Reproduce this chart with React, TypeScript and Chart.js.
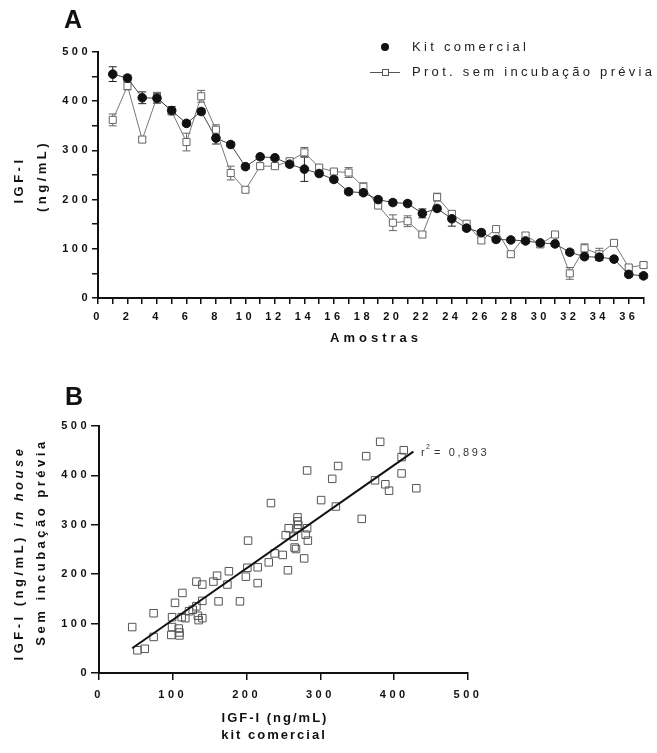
import React, { useEffect, useRef } from "react";
import { Chart, registerables } from "chart.js";

Chart.register(...registerables);

// ---------- Panel A data ----------
const amostras = [1,2,3,4,5,6,7,8,9,10,11,12,13,14,15,16,17,18,19,20,21,22,23,24,25,26,27,28,29,30,31,32,33,34,35,36,37];
const kitValues = [455,447,407,406,381,355,379,325,312,267,287,285,272,262,253,241,216,214,200,194,192,172,182,161,142,133,119,118,116,112,110,93,84,83,79,48,45];
const kitErr = [15,6,12,10,8,5,6,12,5,5,5,5,5,25,5,5,5,5,5,5,5,9,5,15,5,5,5,5,5,5,5,5,5,7,5,5,5];
const protValues = [362,431,322,408,379,317,410,342,254,220,268,268,278,296,265,257,255,226,188,153,156,129,205,171,151,117,140,89,127,109,129,50,101,89,112,62,67];
const protErr = [12,8,5,10,5,18,12,10,14,5,5,5,5,10,5,5,10,8,5,16,11,5,8,5,5,5,5,5,6,5,5,12,9,12,5,5,5];
const xTicksA = [0,2,4,6,8,10,12,14,16,18,20,22,24,26,28,30,32,34,36];

// ---------- Panel B data ----------
const kitB = [45,52,62,74,74,99,99,98,103,108,109,109,112,113,117,122,127,132,132,134,135,140,140,140,155,160,162,176,174,191,199,202,201,215,215,230,233,238,249,253,256,257,264,265,267,269,269,269,270,280,282,283,278,282,301,316,321,324,356,362,374,381,388,393,410,410,413,430];
const protB = [93,46,49,73,121,113,93,77,142,90,82,76,113,162,111,125,128,185,135,116,107,179,146,111,185,197,145,206,179,145,195,268,213,214,182,224,344,242,239,279,208,293,276,254,251,293,315,307,300,280,293,268,232,410,350,393,337,419,312,439,390,468,382,369,404,437,451,374];
const fitX = [45, 426];
const fitY = [50, 448];
const r2Label = "0,893";

const FAM = "'Liberation Sans', Arial, Helvetica, sans-serif";

function drawText(ctx: any, s: string, x: number, y: number, font: string, spacing: number, align: string, color: string) {
  ctx.save();
  ctx.font = font;
  ctx.letterSpacing = spacing + "px";
  ctx.fillStyle = color;
  ctx.textAlign = align;
  ctx.textBaseline = "middle";
  const dx = align === "center" ? spacing / 2 : 0;
  ctx.fillText(s, x + dx, y);
  ctx.restore();
}

function drawRotated(ctx: any, parts: [string, string][], cx: number, cy: number, spacing: number, color: string) {
  ctx.save();
  ctx.translate(cx, cy);
  ctx.rotate(-Math.PI / 2);
  ctx.letterSpacing = spacing + "px";
  ctx.fillStyle = color;
  ctx.textBaseline = "middle";
  ctx.textAlign = "left";
  let total = 0;
  const widths = parts.map(([s, f]) => { ctx.font = f; const w = ctx.measureText(s).width; total += w; return w; });
  let x = -total / 2;
  parts.forEach(([s, f], i) => { ctx.font = f; ctx.fillText(s, x, 0); x += widths[i]; });
  ctx.restore();
}

const errorBars = {
  id: "errorBars",
  beforeDatasetsDraw(chart: any) {
    const { ctx } = chart;
    const x = chart.scales.x, y = chart.scales.y;
    chart.data.datasets.forEach((ds: any) => {
      if (!ds.errors) return;
      ctx.save();
      ctx.strokeStyle = ds.errorColor;
      ctx.lineWidth = 1;
      ds.data.forEach((p: any, j: number) => {
        const e = ds.errors[j];
        const px = x.getPixelForValue(p.x);
        const t = y.getPixelForValue(p.y + e);
        const b = y.getPixelForValue(p.y - e);
        ctx.beginPath();
        ctx.moveTo(px, t); ctx.lineTo(px, b);
        ctx.moveTo(px - 4, t); ctx.lineTo(px + 4, t);
        ctx.moveTo(px - 4, b); ctx.lineTo(px + 4, b);
        ctx.stroke();
      });
      ctx.restore();
    });
  },
};

const spacingPlugin = {
  id: "spacing",
  beforeDraw(chart: any) { chart.ctx.letterSpacing = "3.5px"; },
};

const annotA = {
  id: "annotA",
  afterDraw(chart: any) {
    const ctx = chart.ctx;
    drawText(ctx, "A", 64, 21, `bold 25px ${FAM}`, 0, "left", "#111");
    drawRotated(ctx, [["IGF-I", `bold 13px ${FAM}`]], 19, 180, 3.5, "#111");
    drawRotated(ctx, [["(ng/mL)", `bold 13px ${FAM}`]], 42, 176, 3.5, "#111");
    drawText(ctx, "Amostras", 374, 338, `bold 13px ${FAM}`, 4, "center", "#111");
    // legend
    ctx.save();
    ctx.fillStyle = "#111";
    ctx.beginPath(); ctx.arc(385, 47, 4, 0, Math.PI * 2); ctx.fill();
    ctx.strokeStyle = "#555"; ctx.lineWidth = 1;
    ctx.beginPath(); ctx.moveTo(370, 72.5); ctx.lineTo(400, 72.5); ctx.stroke();
    ctx.fillStyle = "#fff";
    ctx.fillRect(382, 69.5, 6, 6);
    ctx.strokeRect(382.5, 69.5, 6, 6);
    ctx.restore();
    drawText(ctx, "Kit comercial", 412, 47, `13px ${FAM}`, 3.3, "left", "#222");
    drawText(ctx, "Prot. sem incubação prévia", 412, 72, `13px ${FAM}`, 3.3, "left", "#222");
  },
};

const annotB = {
  id: "annotB",
  afterDraw(chart: any) {
    const ctx = chart.ctx;
    drawText(ctx, "B", 65, 28, `bold 25px ${FAM}`, 0, "left", "#111");
    drawRotated(ctx, [["IGF-I (ng/mL) ", `bold 13px ${FAM}`], ["in house", `italic bold 13px ${FAM}`]], 19, 183, 3.5, "#111");
    drawRotated(ctx, [["Sem incubação prévia", `bold 13px ${FAM}`]], 41, 172, 3.5, "#111");
    drawText(ctx, "IGF-I (ng/mL)", 274, 348, `bold 13px ${FAM}`, 2, "center", "#111");
    drawText(ctx, "kit comercial", 273, 365, `bold 13px ${FAM}`, 2, "center", "#111");
    // r^2 label
    drawText(ctx, "r", 421, 83, `11px ${FAM}`, 0, "left", "#333");
    drawText(ctx, "2", 426, 77, `7px ${FAM}`, 0, "left", "#333");
    drawText(ctx, "= " + r2Label, 434, 83, `11px ${FAM}`, 2.6, "left", "#333");
  },
};

const tickFont = { family: FAM, size: 11, weight: "bold" as const };

export default function App() {
  const refA = useRef<HTMLCanvasElement>(null);
  const refB = useRef<HTMLCanvasElement>(null);

  useEffect(() => {
    const chartA = new Chart(refA.current as HTMLCanvasElement, {
      type: "scatter",
      data: {
        datasets: [
          {
            label: "Kit comercial",
            data: amostras.map((a, i) => ({ x: a, y: kitValues[i] })),
            showLine: true,
            clip: false,
            borderColor: "#444",
            borderWidth: 1,
            pointStyle: "circle",
            pointRadius: 4.3,
            pointBackgroundColor: "#111",
            pointBorderColor: "#111",
            pointBorderWidth: 1,
            errors: kitErr,
            errorColor: "#222",
          } as any,
          {
            label: "Prot. sem incubação prévia",
            data: amostras.map((a, i) => ({ x: a, y: protValues[i] })),
            showLine: true,
            clip: false,
            borderColor: "#777",
            borderWidth: 1,
            pointStyle: "rect",
            pointRadius: 5,
            pointBackgroundColor: "#fff",
            pointBorderColor: "#666",
            pointBorderWidth: 1,
            errors: protErr,
            errorColor: "#666",
          } as any,
        ],
      },
      options: {
        animation: false,
        responsive: false,
        devicePixelRatio: 1,
        layout: { padding: { top: 52, right: 13.5, left: 0, bottom: 0 } },
        plugins: { legend: { display: false }, tooltip: { enabled: false } },
        scales: {
          x: {
            type: "linear",
            min: 0,
            max: 37,
            afterFit: (s: any) => { s.height = 72; },
            afterBuildTicks: (s: any) => { s.ticks = [0].concat(amostras).map((v) => ({ value: v })); },
            ticks: {
              autoSkip: false,
              maxRotation: 0,
              padding: 6,
              color: "#111",
              font: tickFont,
              callback: (v: any) => (xTicksA.includes(v) ? String(v) : ""),
            },
            grid: { display: true, drawOnChartArea: false, drawTicks: true, tickLength: 6, color: "#111", lineWidth: 1.5 },
            border: { display: true, color: "#111", width: 2 },
          },
          y: {
            min: 0,
            max: 500,
            afterFit: (s: any) => { s.width = 98; },
            ticks: {
              stepSize: 50,
              autoSkip: false,
              padding: 1,
              color: "#111",
              font: tickFont,
              callback: (v: any) => (v % 100 === 0 ? String(v) : ""),
            },
            grid: { display: true, drawOnChartArea: false, drawTicks: true, tickLength: 6, color: "#111", lineWidth: 1.5 },
            border: { display: true, color: "#111", width: 2 },
          },
        },
      } as any,
      plugins: [spacingPlugin, errorBars, annotA],
    });

    const chartB = new Chart(refB.current as HTMLCanvasElement, {
      type: "scatter",
      data: {
        datasets: [
          {
            label: "fit",
            data: fitX.map((v, i) => ({ x: v, y: fitY[i] })),
            showLine: true,
            borderColor: "#111",
            borderWidth: 2,
            pointRadius: 0,
          },
          {
            label: "pontos",
            data: kitB.map((v, i) => ({ x: v, y: protB[i] })),
            pointStyle: "rect",
            pointRadius: 5.3,
            pointBackgroundColor: "rgba(0,0,0,0)",
            pointBorderColor: "#555",
            pointBorderWidth: 1,
          },
        ],
      },
      options: {
        animation: false,
        responsive: false,
        devicePixelRatio: 1,
        layout: { padding: { top: 56, right: 189, left: 0, bottom: 0 } },
        plugins: { legend: { display: false }, tooltip: { enabled: false } },
        scales: {
          x: {
            type: "linear",
            min: 0,
            max: 500,
            afterFit: (s: any) => { s.height = 80; },
            ticks: { stepSize: 100, padding: 8, color: "#111", font: tickFont, maxRotation: 0 },
            grid: { display: true, drawOnChartArea: false, drawTicks: true, tickLength: 7, color: "#111", lineWidth: 1.5 },
            border: { display: true, color: "#111", width: 2 },
          },
          y: {
            min: 0,
            max: 500,
            afterFit: (s: any) => { s.width = 99; },
            ticks: { stepSize: 100, padding: 1, color: "#111", font: tickFont },
            grid: { display: true, drawOnChartArea: false, drawTicks: true, tickLength: 8, color: "#111", lineWidth: 1.5 },
            border: { display: true, color: "#111", width: 2 },
          },
        },
      } as any,
      plugins: [spacingPlugin, annotB],
    });

    return () => { chartA.destroy(); chartB.destroy(); };
  }, []);

  return (
    <div style={{ position: "absolute", left: 0, top: 0, width: 657, height: 753, background: "#fff" }}>
      <canvas ref={refA} width={657} height={370} style={{ position: "absolute", left: 0, top: 0 }} />
      <canvas ref={refB} width={657} height={383} style={{ position: "absolute", left: 0, top: 370 }} />
    </div>
  );
}
